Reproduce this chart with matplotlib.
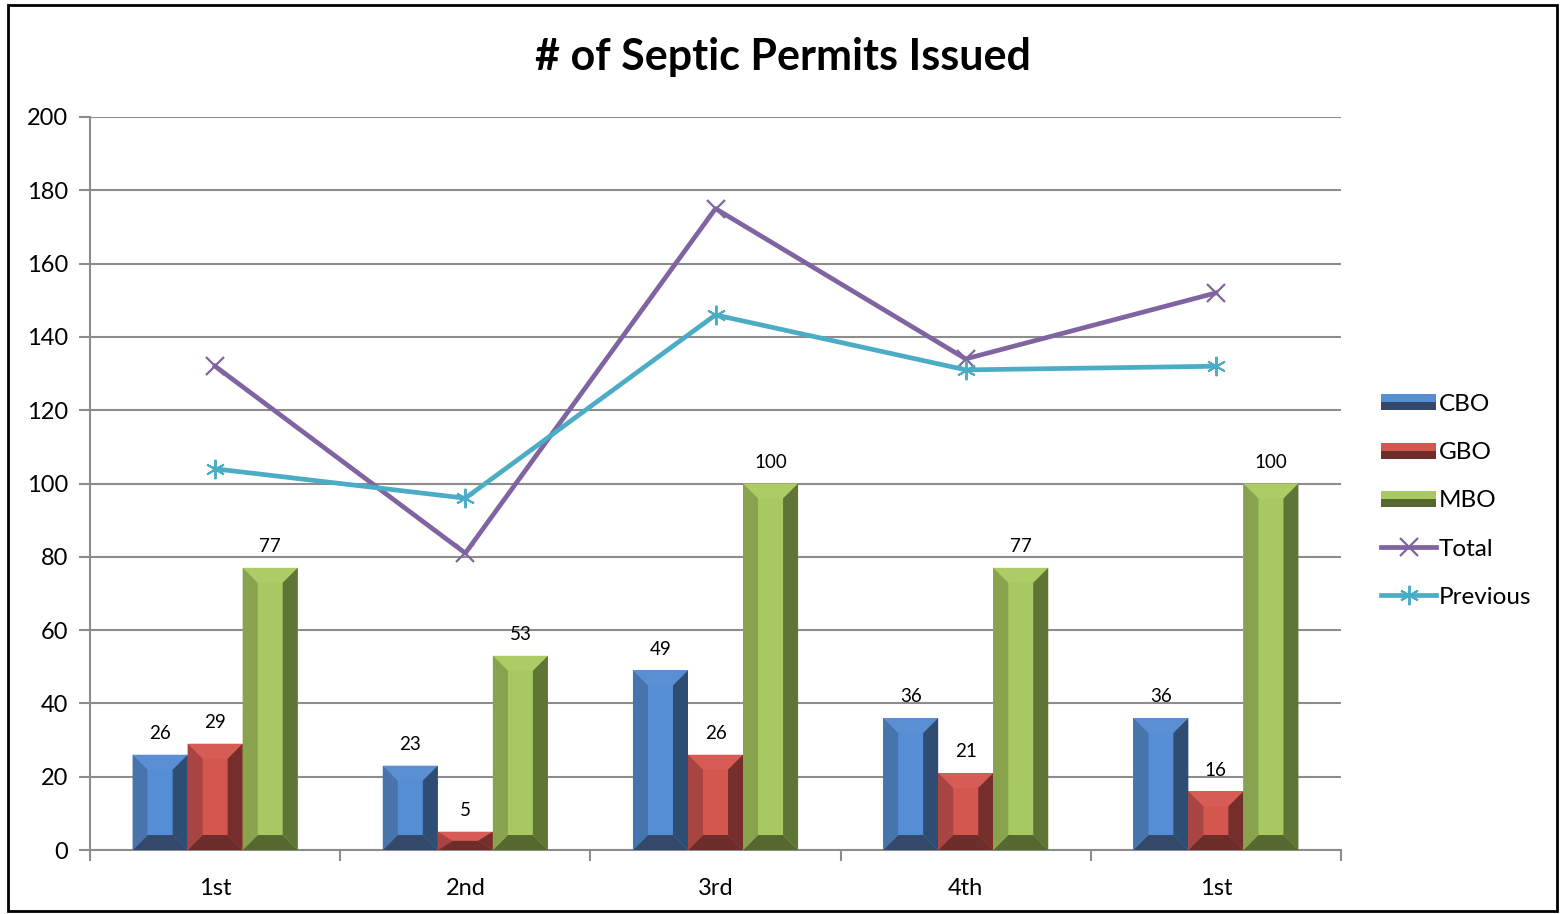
import numpy as np
import matplotlib
matplotlib.use('Agg')
import matplotlib.pyplot as plt
from matplotlib.patches import Polygon, Rectangle
from matplotlib.legend_handler import HandlerPatch

plt.rcParams['font.family'] = ['Lato', 'DejaVu Sans']

# Data
quarters = ['1st', '2nd', '3rd', '4th', '1st']
cbo = [26, 23, 49, 36, 36]
gbo = [29, 5, 26, 21, 16]
mbo = [77, 53, 100, 77, 100]
total = [132, 81, 175, 134, 152]
previous = [104, 96, 146, 131, 132]

# bevel colours: center, top, left, right, bottom
shades = {
    'CBO': ['#558ed5', '#5b8fd3', '#4775ab', '#2f4d72', '#34496a'],
    'GBO': ['#d4574f', '#d65c55', '#a84441', '#762e2d', '#6d2d2b'],
    'MBO': ['#a7c862', '#adcc66', '#88a24e', '#5e7536', '#55682f'],
}

fig = plt.figure(figsize=(15.66, 9.14), dpi=100)
ax = fig.add_axes([0.0575, 0.070, 0.7988, 0.802])
ax.set_xlim(-0.5, 4.5)
ax.set_ylim(0, 200)

# bevel size, ~15 px, converted to data units
axw = fig.get_figwidth() * fig.dpi * 0.7988
axh = fig.get_figheight() * fig.dpi * 0.802
bev_x = 15 / axw * 5.0
bev_y = 15 / axh * 200.0


def bevel_bar(x0, w, h, c):
    x1 = x0 + w
    bx = min(bev_x, w / 2)
    by = min(bev_y, h / 2)
    pieces = [
        ([(x0, h), (x1, h), (x1 - bx, h - by), (x0 + bx, h - by)], c[1]),
        ([(x0, 0), (x1, 0), (x1 - bx, by), (x0 + bx, by)], c[4]),
        ([(x0, 0), (x0 + bx, by), (x0 + bx, h - by), (x0, h)], c[2]),
        ([(x1, 0), (x1 - bx, by), (x1 - bx, h - by), (x1, h)], c[3]),
    ]
    for pts, col in pieces:
        ax.add_patch(Polygon(pts, closed=True, facecolor=col,
                             edgecolor='none', zorder=3))


x = np.arange(len(quarters))
bw = 0.22
handles = []
for i, (name, vals) in enumerate([('CBO', cbo), ('GBO', gbo), ('MBO', mbo)]):
    c = shades[name]
    bars = ax.bar(x + (i - 1) * bw, vals, bw, color=c[0], edgecolor='none',
                  zorder=2, label=name)
    handles.append(bars)
    for r, v in zip(bars, vals):
        bevel_bar(r.get_x(), r.get_width(), v, c)
        ax.text(r.get_x() + r.get_width() / 2, v + 3.5, str(v),
                ha='center', va='bottom', fontsize=13.5, zorder=5)

l1, = ax.plot(x, total, color='#8064a2', lw=3.4, marker='x', ms=13,
              mew=1.6, zorder=4, label='Total')
l2, = ax.plot(x, previous, color='#4bacc6', lw=3.4, marker=(6, 2, 0),
              ms=14, mew=1.4, zorder=4, label='Previous')


class BevelHandler(HandlerPatch):
    def __init__(self, cols):
        super().__init__()
        self.cols = cols

    def create_artists(self, legend, orig_handle, xdescent, ydescent,
                       width, height, fontsize, trans):
        c = self.cols
        hh = height * 0.95
        x0, y0 = -xdescent, -ydescent + (height - hh) / 2
        top = Polygon([(x0, y0 + hh), (x0 + width, y0 + hh),
                       (x0 + width, y0 + hh / 2), (x0, y0 + hh / 2)],
                      facecolor=c[0], edgecolor='none', transform=trans)
        bot = Polygon([(x0, y0), (x0 + width, y0),
                       (x0 + width, y0 + hh / 2), (x0, y0 + hh / 2)],
                      facecolor=c[4], edgecolor='none', transform=trans)
        return [top, bot]


hmap = {handles[0]: BevelHandler(shades['CBO']),
        handles[1]: BevelHandler(shades['GBO']),
        handles[2]: BevelHandler(shades['MBO'])}
fig.legend(handles + [l1, l2], ['CBO', 'GBO', 'MBO', 'Total', 'Previous'],
           handler_map=hmap, loc='center left',
           bbox_to_anchor=(0.882, 0.452), frameon=False, fontsize=17.5,
           handlelength=2.25, handletextpad=0.12, labelspacing=1.12,
           borderaxespad=0, borderpad=0)

fig.text(0.5, 0.938, '# of Septic Permits Issued', fontsize=31,
         fontweight='bold', ha='center', va='center')

ax.set_yticks(np.arange(0, 201, 20))
ax.yaxis.grid(True, color='#8c8c8c', lw=1.5, zorder=0)
ax.set_axisbelow(True)
ax.set_xticks(x)
ax.set_xticklabels(quarters)
ax.set_xticks(np.arange(-0.5, 5, 1), minor=True)
ax.tick_params(axis='x', which='major', length=0, labelsize=17, pad=20)
ax.tick_params(axis='x', which='minor', length=8, width=1.5,
               color='#8c8c8c')
ax.tick_params(axis='y', length=8, width=1.5, color='#8c8c8c',
               labelsize=17, pad=8)
for s in ['top', 'right']:
    ax.spines[s].set_visible(False)
for s in ['left', 'bottom']:
    ax.spines[s].set_color('#8c8c8c')
    ax.spines[s].set_linewidth(1.5)

# outer chart border
fig.add_artist(Rectangle((0.005, 0.003), 0.989, 0.991, fill=False,
                         edgecolor='black', lw=2, transform=fig.transFigure))

fig.savefig('out.png', dpi=100)
